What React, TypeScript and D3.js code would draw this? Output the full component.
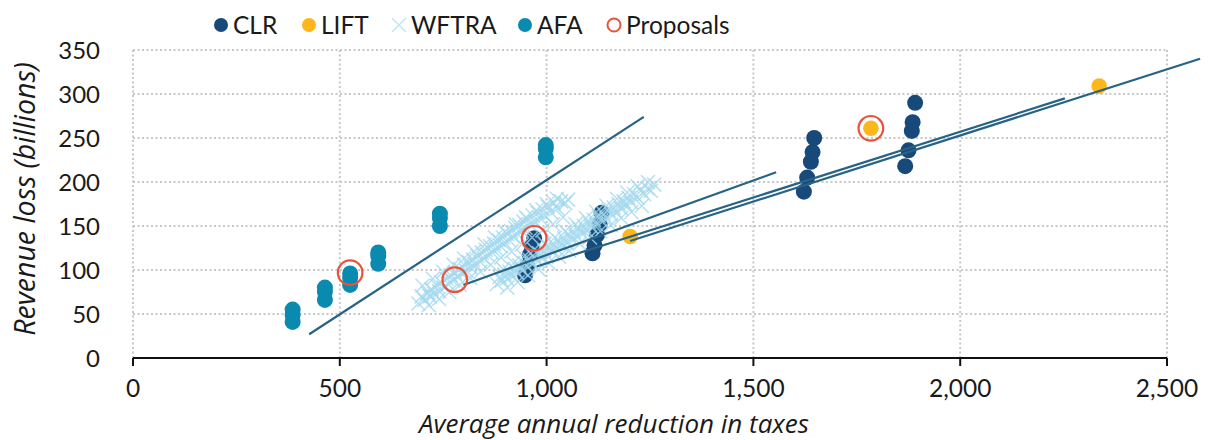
import React from "react";
import * as d3 from "d3";

// ---- Data ----
const clrPoints: [number, number][] = [
  [948, 94], [953, 104], [959, 117], [964, 127], [970, 136],
  [1111, 119], [1116, 128], [1122, 140], [1128, 152], [1133, 165],
  [1622, 189], [1630, 205], [1639, 223], [1643, 234], [1647, 250],
  [1867, 218], [1875, 236], [1883, 258], [1885, 268], [1891, 290],
];

const liftPoints: [number, number][] = [
  [1202, 138], [1784, 261], [2336, 309],
];

const afaPoints: [number, number][] = [
  [386, 41], [386, 49], [386, 55],
  [464, 66], [464, 75], [464, 80],
  [525, 83], [525, 91], [525, 96],
  [593, 107], [593, 116], [593, 120],
  [742, 150], [742, 159], [742, 164],
  [998, 228], [998, 238], [998, 242],
];

const wftraPoints: [number, number][] = [
  // lower-left band
  [690, 62], [698, 70], [705, 66], [712, 74], [718, 70], [722, 78], [728, 73], [735, 82],
  [740, 76], [745, 86], [752, 80], [758, 90], [762, 84], [768, 94], [773, 88], [778, 97],
  [784, 92], [790, 101], [795, 96], [800, 106], [806, 99], [812, 109], [816, 103], [822, 112],
  [828, 106], [833, 116], [838, 110], [843, 120], [848, 113], [853, 123], [858, 117], [863, 127],
  [868, 120], [873, 130], [878, 124], [884, 134], [889, 127], [894, 137], [899, 131], [904, 141],
  [909, 134], [914, 144], [919, 138], [924, 148], [929, 141], [934, 151], [939, 145], [944, 155],
  [949, 148], [954, 158], [960, 152], [966, 162], [972, 155], [978, 165], [984, 159], [990, 169],
  [996, 162], [1003, 172], [1010, 166], [1018, 176], [1026, 170], [1035, 178], [1045, 176], [1052, 180],
  [700, 82], [725, 90], [750, 98], [775, 106], [800, 113], [825, 121], [850, 129], [875, 137],
  [900, 144], [925, 152], [950, 160], [975, 168], [1000, 175], [1025, 181],
  [715, 60], [740, 67], [765, 75], [790, 83], [815, 91], [840, 98], [865, 106], [890, 114],
  [915, 121], [940, 129], [965, 137], [990, 145], [1015, 152], [1040, 160],
  // upper-right band
  [880, 84], [886, 92], [892, 88], [898, 95], [904, 90], [910, 98], [916, 94], [922, 101],
  [928, 97], [934, 105], [940, 100], [946, 108], [952, 104], [958, 112], [964, 107], [970, 115],
  [976, 111], [982, 119], [988, 114], [994, 122], [1000, 117], [1006, 126], [1012, 121], [1018, 129],
  [1024, 124], [1030, 133], [1036, 128], [1042, 136], [1048, 131], [1054, 140], [1060, 135], [1066, 143],
  [1072, 138], [1078, 147], [1084, 142], [1090, 150], [1096, 145], [1102, 154], [1108, 149], [1114, 157],
  [1120, 152], [1126, 161], [1132, 156], [1138, 164], [1144, 159], [1150, 168], [1156, 163], [1162, 171],
  [1168, 166], [1174, 175], [1180, 170], [1186, 178], [1192, 174], [1198, 182], [1204, 177], [1212, 186],
  [1220, 182], [1228, 190], [1236, 186], [1244, 193], [1252, 190], [1260, 197],
  [895, 101], [920, 108], [945, 115], [970, 123], [995, 130], [1020, 137], [1045, 144], [1070, 152],
  [1095, 159], [1120, 166], [1145, 173], [1170, 181], [1195, 188], [1220, 195], [1245, 200],
  [905, 80], [930, 86], [955, 94], [980, 101], [1005, 108], [1030, 115], [1055, 122], [1080, 130],
  [1105, 137], [1130, 144], [1155, 151], [1180, 159], [1205, 166], [1230, 173],
];

const proposalPoints: [number, number][] = [
  [525, 97], [778, 89], [970, 136], [1784, 261],
];

// trend line endpoints [x1, y1, x2, y2]
const trendAFA = [426, 27, 1235, 274];
const trendWFTRA = [799, 83, 1555, 211];
const trendCLR = [976, 104, 2253, 295];
const trendLIFT = [1202, 133, 2580, 340];
const trendLines = [trendAFA, trendWFTRA, trendCLR, trendLIFT];

const xTicks = [0, 500, 1000, 1500, 2000, 2500];
const yTicks = [0, 50, 100, 150, 200, 250, 300, 350];

const legendItems = [
  { label: "CLR", kind: "dot", color: "#17497a", x: 221 },
  { label: "LIFT", kind: "dot", color: "#fdb71a", x: 309 },
  { label: "WFTRA", kind: "cross", color: "#c4e6f4", x: 399 },
  { label: "AFA", kind: "dot", color: "#0a8aae", x: 525 },
  { label: "Proposals", kind: "ring", color: "#e9533a", x: 614 },
];

// ---- Styles ----
const FONT = "Lato, 'Open Sans', sans-serif";
const TITLE_FONT = "'Open Sans', Lato, sans-serif";
const C_CLR = "#17497a";
const C_LIFT = "#fdb71a";
const C_AFA = "#0a8aae";
const C_WFTRA = "#a3d8ed";
const C_PROP = "#e9533a";
const C_LINE = "#276384";
const C_GRID = "#c8c8c8";

export default function App() {
  const x = d3.scaleLinear().domain([0, 2500]).range([133, 1167]);
  const y = d3.scaleLinear().domain([0, 350]).range([358, 50]);
  const fmt = d3.format(",");
  const s = 7;
  const crossPath = `M${-s},${-s}L${s},${s}M${-s},${s}L${s},${-s}`;

  return (
    <svg
      width={1208}
      height={440}
      style={{ position: "absolute", left: 0, top: 0, background: "#fff" }}
      fontFamily={FONT}
    >
      {/* grid */}
      {yTicks.filter((t) => t > 0).map((t) => (
        <line key={"gy" + t} x1={x(0)} x2={x(2500)} y1={y(t)} y2={y(t)}
          stroke={C_GRID} strokeWidth={2} strokeDasharray="2 2.5" />
      ))}
      {xTicks.map((t) => (
        <line key={"gx" + t} x1={x(t)} x2={x(t)} y1={y(350)} y2={y(0)}
          stroke={C_GRID} strokeWidth={2} strokeDasharray="2 2.5" />
      ))}

      {/* x axis */}
      <line x1={x(0)} x2={x(2500)} y1={y(0)} y2={y(0)} stroke="#111" strokeWidth={2.2} />
      {xTicks.map((t) => (
        <g key={"xt" + t}>
          <line x1={x(t)} x2={x(t)} y1={y(0)} y2={y(0) + 8} stroke="#111" strokeWidth={2} />
          <text x={x(t)} y={397} textAnchor="middle" fontSize={24.5} fill="#1a1a1a">{fmt(t)}</text>
        </g>
      ))}
      {yTicks.map((t) => (
        <text key={"yt" + t} x={100} y={y(t)} dy="0.36em" textAnchor="end" fontSize={24} fill="#1a1a1a">{t}</text>
      ))}

      {/* axis titles */}
      <text x={614} y={433} textAnchor="middle" fontSize={26} fontStyle="italic" fill="#1a1a1a" fontFamily={TITLE_FONT}>
        Average annual reduction in taxes
      </text>
      <text transform="translate(35,199) rotate(-90)" textAnchor="middle" fontSize={28.5} fontStyle="italic" fill="#1a1a1a" fontFamily={TITLE_FONT}>
        Revenue loss (billions)
      </text>

      {/* AFA */}
      {afaPoints.map((d, i) => (
        <circle key={"afa" + i} cx={x(d[0])} cy={y(d[1])} r={8} fill={C_AFA} />
      ))}
      {/* CLR */}
      {clrPoints.map((d, i) => (
        <circle key={"clr" + i} cx={x(d[0])} cy={y(d[1])} r={8} fill={C_CLR} />
      ))}
      {/* WFTRA */}
      {wftraPoints.map((d, i) => (
        <path key={"wf" + i} d={crossPath} transform={`translate(${x(d[0])},${y(d[1])})`}
          stroke={C_WFTRA} strokeWidth={1.5} strokeOpacity={0.8} fill="none" />
      ))}
      {/* LIFT */}
      {liftPoints.map((d, i) => (
        <circle key={"lift" + i} cx={x(d[0])} cy={y(d[1])} r={7.8} fill={C_LIFT} />
      ))}

      {/* trend lines */}
      {trendLines.map((l, i) => (
        <line key={"tl" + i} x1={x(l[0])} y1={y(l[1])} x2={x(l[2])} y2={y(l[3])}
          stroke={C_LINE} strokeWidth={2.2} />
      ))}

      {/* proposals */}
      {proposalPoints.map((d, i) => (
        <circle key={"pr" + i} cx={x(d[0])} cy={y(d[1])} r={12.3} fill="none" stroke={C_PROP} strokeWidth={2.2} />
      ))}

      {/* legend */}
      {legendItems.map((it) => (
        <g key={it.label} transform={`translate(${it.x},25)`}>
          {it.kind === "dot" && <circle r={7} fill={it.color} />}
          {it.kind === "ring" && <circle r={6.5} fill="none" stroke={it.color} strokeWidth={2} />}
          {it.kind === "cross" && (
            <path d="M-7,-7L7,7M-7,7L7,-7" stroke={it.color} strokeWidth={1.6} fill="none" />
          )}
          <text x={12} y={0} dy="0.36em" fontSize={24.5} fill="#1a1a1a">{it.label}</text>
        </g>
      ))}
    </svg>
  );
}
